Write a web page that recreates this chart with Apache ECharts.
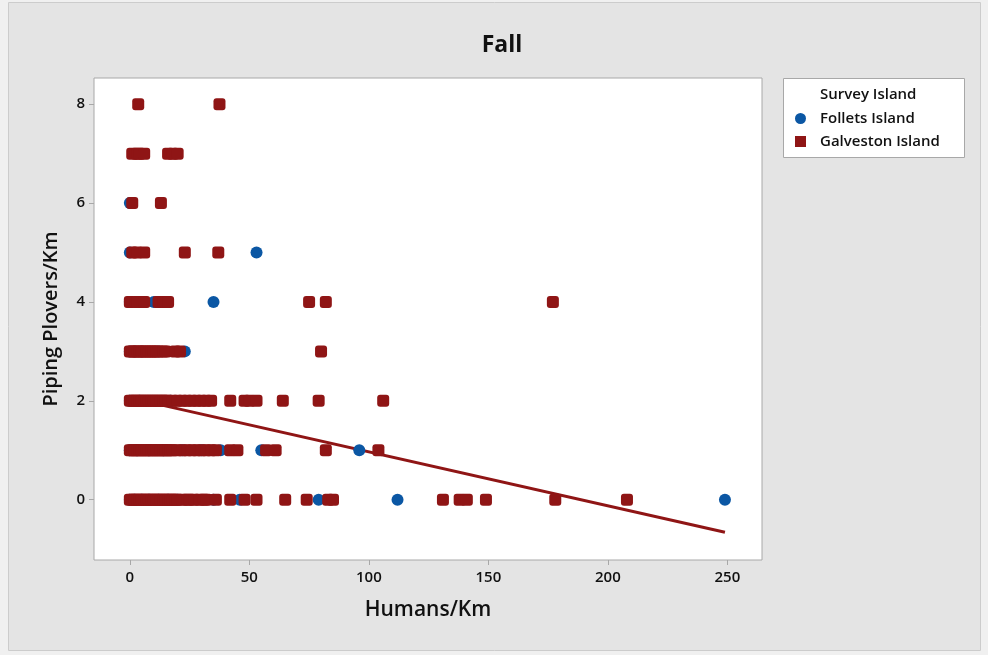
<!DOCTYPE html>
<html>
<head>
<meta charset="utf-8">
<script src="https://cdn.jsdelivr.net/npm/echarts@6/dist/echarts.min.js"></script>
<style>
  html, body { margin: 0; padding: 0; background: #f0f0f0; }
  #chart { width: 988px; height: 655px; }
</style>
</head>
<body>
<div id="chart"></div>
<script>
// Humans/Km and Piping Plovers/Km per survey, by island
const follettsHumans  = [0, 2, 5, 8, 12, 16, 20, 35, 46, 79, 112, 249,
                         0, 3, 8, 14, 22, 30, 38, 55, 96,
                         0, 4, 17,
                         0, 2, 5, 12, 23,
                         0, 4, 10, 35,
                         0, 53,
                         0];
const follettsPlovers = [0, 0, 0, 0, 0, 0, 0, 0, 0, 0, 0, 0,
                         1, 1, 1, 1, 1, 1, 1, 1, 1,
                         2, 2, 2,
                         3, 3, 3, 3, 3,
                         4, 4, 4, 4,
                         5, 5,
                         6];

const galvestonHumans  = [0, 1, 2, 3, 4, 5, 6, 7, 8, 9, 10, 11, 12, 13, 14, 15, 16, 17, 18, 19, 20, 22, 24, 25, 27, 29, 31, 32, 36, 42, 48, 53, 65, 74, 83, 85, 131, 138, 141, 149, 178, 208,
                          0, 1, 2, 3, 4, 5, 6, 7, 8, 9, 10, 11, 12, 13, 14, 15, 16, 17, 18, 20, 22, 24, 26, 28, 30, 32, 34, 36, 42, 45, 57, 61, 82, 104,
                          0, 1, 2, 3, 4, 5, 6, 7, 8, 9, 10, 11, 12, 13, 14, 15, 16, 18, 20, 22, 24, 26, 28, 30, 32, 34, 42, 48, 50, 53, 64, 79, 106,
                          0, 1, 2, 3, 4, 5, 6, 7, 8, 9, 10, 11, 12, 14, 15, 19, 21, 80,
                          0, 3, 6, 12, 14, 16, 75, 82, 177,
                          1, 3, 6, 23, 37,
                          1, 13,
                          1, 3, 4, 6, 16, 18, 20,
                          3.5, 37.5];
const galvestonPlovers = [0, 0, 0, 0, 0, 0, 0, 0, 0, 0, 0, 0, 0, 0, 0, 0, 0, 0, 0, 0, 0, 0, 0, 0, 0, 0, 0, 0, 0, 0, 0, 0, 0, 0, 0, 0, 0, 0, 0, 0, 0, 0,
                          1, 1, 1, 1, 1, 1, 1, 1, 1, 1, 1, 1, 1, 1, 1, 1, 1, 1, 1, 1, 1, 1, 1, 1, 1, 1, 1, 1, 1, 1, 1, 1, 1, 1,
                          2, 2, 2, 2, 2, 2, 2, 2, 2, 2, 2, 2, 2, 2, 2, 2, 2, 2, 2, 2, 2, 2, 2, 2, 2, 2, 2, 2, 2, 2, 2, 2, 2,
                          3, 3, 3, 3, 3, 3, 3, 3, 3, 3, 3, 3, 3, 3, 3, 3, 3, 3,
                          4, 4, 4, 4, 4, 4, 4, 4, 4,
                          5, 5, 5, 5, 5,
                          6, 6,
                          7, 7, 7, 7, 7, 7, 7,
                          8, 8];

// Fitted regression line endpoints
const fitHumans  = [0, 249];
const fitPlovers = [2.06, -0.66];

const xTicks = [0, 50, 100, 150, 200, 250];
const yTicks = [0, 2, 4, 6, 8];

const BLUE = '#0b57a4';
const RED = '#8f1515';
const FONT = '"Open Sans", "Noto Sans", sans-serif';

const zip = (a, b) => a.map((v, i) => [v, b[i]]);

const chart = echarts.init(document.getElementById('chart'), null, { renderer: 'canvas' });

chart.setOption({
  animation: false,
  backgroundColor: '#f0f0f0',
  textStyle: { fontFamily: FONT },
  graphic: [
    {
      type: 'rect', z: -10, silent: true,
      shape: { x: 8.5, y: 2.5, width: 972, height: 648 },
      style: { fill: '#e4e4e4', stroke: '#cccccc', lineWidth: 1 }
    },
    {
      type: 'rect', z: -5, silent: true,
      shape: { x: 783.5, y: 78.5, width: 181, height: 79 },
      style: { fill: '#ffffff', stroke: '#a8a8a8', lineWidth: 1 }
    },
    {
      type: 'text', z: 5, silent: true,
      left: 820, top: 87,
      style: { text: 'Survey Island', fill: '#111', font: '600 15px ' + FONT }
    }
  ],
  title: {
    text: 'Fall',
    left: 497, top: 29, textAlign: 'center',
    textStyle: { fontSize: 23, fontWeight: 'bold', color: '#111', fontFamily: FONT }
  },
  legend: {
    data: [
      { name: 'Follets Island', icon: 'circle' },
      { name: 'Galveston Island', icon: 'rect' }
    ],
    orient: 'vertical',
    left: 790, top: 106,
    itemWidth: 11, itemHeight: 11, itemGap: 8,
    textStyle: { fontSize: 15, fontWeight: 600, color: '#111', fontFamily: FONT, padding: [0, 0, 0, 9] }
  },
  grid: {
    left: 94, right: 226, top: 78, bottom: 95,
    show: true, backgroundColor: '#ffffff', borderColor: '#a8a8a8', borderWidth: 1
  },
  xAxis: {
    type: 'value', min: -15, max: 264.5,
    name: 'Humans/Km', nameLocation: 'middle', nameGap: 40,
    nameTextStyle: { fontSize: 21, fontWeight: 600, color: '#111', fontFamily: FONT },
    axisLine: { show: false, onZero: false },
    splitLine: { show: false },
    axisTick: { show: true, customValues: xTicks, length: 5, lineStyle: { color: '#a8a8a8' } },
    axisLabel: { customValues: xTicks, fontSize: 15, fontWeight: 600, color: '#111', margin: 10, fontFamily: FONT }
  },
  yAxis: {
    type: 'value', min: -1.22, max: 8.53,
    name: 'Piping Plovers/Km', nameLocation: 'middle', nameGap: 33,
    nameTextStyle: { fontSize: 20, fontWeight: 600, color: '#111', fontFamily: FONT },
    axisLine: { show: false, onZero: false },
    splitLine: { show: false },
    axisTick: { show: true, customValues: yTicks, length: 5, lineStyle: { color: '#a8a8a8' } },
    axisLabel: { customValues: yTicks, fontSize: 15, fontWeight: 600, color: '#111', margin: 9, fontFamily: FONT }
  },
  series: [
    {
      name: 'Fit', type: 'line', z: 1,
      data: zip(fitHumans, fitPlovers),
      showSymbol: false, silent: true,
      lineStyle: { color: RED, width: 3 }
    },
    {
      name: 'Follets Island', type: 'scatter', z: 2,
      data: zip(follettsHumans, follettsPlovers),
      symbol: 'circle', symbolSize: 12,
      itemStyle: { color: BLUE, opacity: 1 }
    },
    {
      name: 'Galveston Island', type: 'scatter', z: 3,
      data: zip(galvestonHumans, galvestonPlovers),
      symbol: 'roundRect', symbolSize: 12,
      itemStyle: { color: RED, opacity: 1 }
    }
  ]
});
</script>
</body>
</html>
